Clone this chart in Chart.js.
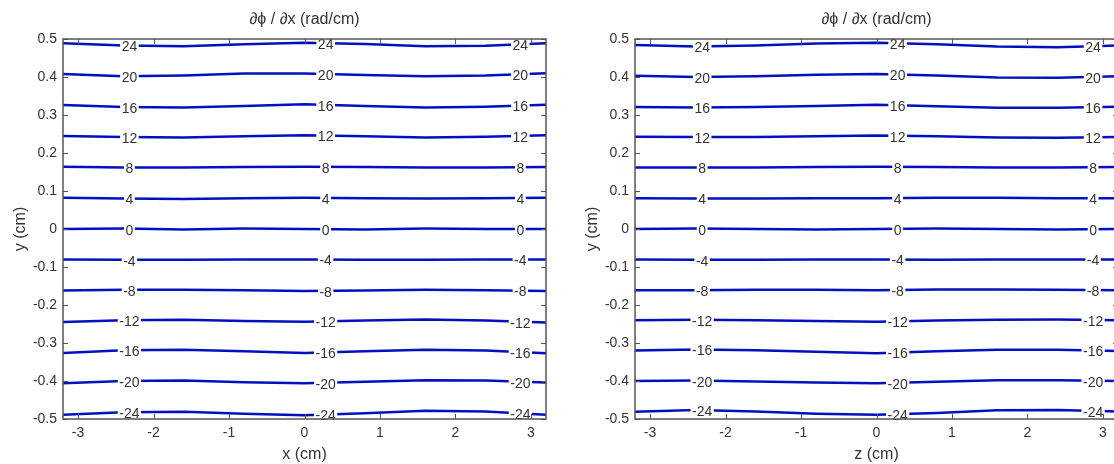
<!DOCTYPE html>
<html>
<head>
<meta charset="utf-8">
<script src="https://cdn.jsdelivr.net/npm/chart.js@4.4.0/dist/chart.umd.min.js"></script>
<style>
  html, body { margin: 0; padding: 0; background: #fff; overflow: hidden; width: 1114px; height: 464px; position: relative; }
  .panel { position: absolute; top: 0; width: 557px; height: 464px; }
  #panel-x { left: 0; }
  #panel-z { left: 572px; }
</style>
</head>
<body>
<div class="panel" id="panel-x"><canvas id="chartX" width="557" height="464"></canvas></div>
<div class="panel" id="panel-z"><canvas id="chartZ" width="557" height="464"></canvas></div>
<script>
// contour levels of dphi/dx (rad/cm), top to bottom
const levels   = [24, 20, 16, 12, 8, 4, 0, -4, -8, -12, -16, -20, -24];
// horizontal positions (cm) where each contour is sampled
const xSamples = [-3.2, -2.4, -1.6, -0.8, 0, 0.8, 1.6, 2.4, 3.2];
const xTicks   = [-3, -2, -1, 0, 1, 2, 3];
const yTicks   = [-0.5, -0.4, -0.3, -0.2, -0.1, 0, 0.1, 0.2, 0.3, 0.4, 0.5];

// contour y positions (cm) along x, one row per level
const contoursX = [
  [0.489, 0.483, 0.481, 0.486, 0.490, 0.487, 0.481, 0.482, 0.489],
  [0.408, 0.402, 0.404, 0.409, 0.409, 0.405, 0.402, 0.404, 0.410],
  [0.326, 0.321, 0.320, 0.324, 0.328, 0.324, 0.320, 0.322, 0.327],
  [0.245, 0.242, 0.241, 0.244, 0.247, 0.244, 0.241, 0.243, 0.247],
  [0.164, 0.162, 0.162, 0.163, 0.164, 0.163, 0.162, 0.162, 0.163],
  [0.082, 0.080, 0.079, 0.081, 0.082, 0.081, 0.080, 0.081, 0.082],
  [0.000, 0.001, -0.001, 0.001, 0.000, -0.001, 0.001, 0.000, 0.000],
  [-0.080, -0.081, -0.081, -0.080, -0.080, -0.081, -0.081, -0.080, -0.080],
  [-0.162, -0.160, -0.160, -0.161, -0.163, -0.162, -0.160, -0.161, -0.163],
  [-0.245, -0.240, -0.239, -0.242, -0.244, -0.241, -0.238, -0.241, -0.246],
  [-0.326, -0.319, -0.318, -0.322, -0.326, -0.322, -0.318, -0.320, -0.327],
  [-0.406, -0.400, -0.399, -0.403, -0.406, -0.402, -0.398, -0.399, -0.404],
  [-0.489, -0.482, -0.481, -0.486, -0.490, -0.485, -0.478, -0.480, -0.489]
];

// same field sampled along z
const contoursZ = [
  [0.484, 0.480, 0.483, 0.488, 0.490, 0.486, 0.480, 0.478, 0.483],
  [0.403, 0.400, 0.402, 0.406, 0.408, 0.404, 0.399, 0.398, 0.402],
  [0.321, 0.320, 0.321, 0.324, 0.327, 0.323, 0.319, 0.319, 0.322],
  [0.243, 0.242, 0.242, 0.244, 0.246, 0.244, 0.241, 0.240, 0.242],
  [0.162, 0.162, 0.162, 0.163, 0.164, 0.163, 0.162, 0.162, 0.163],
  [0.081, 0.080, 0.080, 0.081, 0.081, 0.082, 0.082, 0.081, 0.081],
  [0.000, 0.001, 0.000, -0.001, 0.000, 0.001, 0.000, -0.001, 0.000],
  [-0.080, -0.081, -0.081, -0.080, -0.080, -0.081, -0.080, -0.080, -0.080],
  [-0.161, -0.161, -0.160, -0.160, -0.161, -0.159, -0.159, -0.160, -0.161],
  [-0.240, -0.239, -0.240, -0.242, -0.244, -0.241, -0.239, -0.238, -0.240],
  [-0.320, -0.317, -0.319, -0.323, -0.327, -0.322, -0.318, -0.318, -0.321],
  [-0.400, -0.399, -0.401, -0.404, -0.406, -0.402, -0.398, -0.398, -0.400],
  [-0.481, -0.476, -0.480, -0.486, -0.489, -0.484, -0.477, -0.476, -0.480]
];

// where the inline level labels sit (cm along the horizontal axis)
const labelPosX = [-2.32, 0.28, 2.86];
const labelPosZ = [-2.31, 0.28, 2.87];

const lineBlue  = '#0010c0';
const textColor = '#333';
const boxColor  = '#555';
const fontFam   = '"Liberation Sans", Arial, Helvetica, sans-serif';
const tickFont  = { family: fontFam, size: 14 };
const titleFont = { family: fontFam, size: 16 };
const labelFont = '14px ' + fontFam;

// y of a contour at position xv, linear between samples
function yAt(row, xv) {
  for (let j = 0; j < xSamples.length - 1; j++) {
    const x0 = xSamples[j], x1 = xSamples[j + 1];
    if (xv >= x0 && xv <= x1) {
      const t = (xv - x0) / (x1 - x0);
      return row[j] + t * (row[j + 1] - row[j]);
    }
  }
  return row[row.length - 1];
}

// clabel-style text on the lines + matlab style box with inward ticks
function contourDecor(rows, labelXs) {
  return {
    id: 'contourDecor',
    afterDatasetsDraw(chart) {
      const { ctx, scales: { x, y } } = chart;
      ctx.save();
      ctx.font = labelFont;
      ctx.textAlign = 'center';
      ctx.textBaseline = 'middle';
      levels.forEach((lev, i) => {
        labelXs.forEach(lx => {
          const px = x.getPixelForValue(lx);
          const py = y.getPixelForValue(yAt(rows[i], lx)) + 2;
          const txt = String(lev);
          const w = ctx.measureText(txt).width + 3;
          ctx.fillStyle = '#fff';
          ctx.fillRect(px - w / 2, py - 7, w, 12);
          ctx.fillStyle = textColor;
          ctx.fillText(txt, px, py);
        });
      });
      ctx.restore();
    },
    afterDraw(chart) {
      const { ctx, chartArea: a, scales: { x, y } } = chart;
      const tl = 5;
      ctx.save();
      ctx.strokeStyle = boxColor;
      ctx.lineWidth = 1.5;
      ctx.strokeRect(a.left, a.top, a.right - a.left, a.bottom - a.top);
      ctx.lineWidth = 1;
      ctx.beginPath();
      xTicks.forEach(v => {
        const px = Math.round(x.getPixelForValue(v)) + 0.5;
        ctx.moveTo(px, a.bottom); ctx.lineTo(px, a.bottom - tl);
        ctx.moveTo(px, a.top);    ctx.lineTo(px, a.top + tl);
      });
      yTicks.forEach(v => {
        const py = Math.round(y.getPixelForValue(v)) + 0.5;
        ctx.moveTo(a.left, py);  ctx.lineTo(a.left + tl, py);
        ctx.moveTo(a.right, py); ctx.lineTo(a.right - tl, py);
      });
      ctx.stroke();
      ctx.restore();
    }
  };
}

const noGrid = { display: false, drawTicks: false };

function makePanel(canvasId, axisName, rows, labelXs) {
  const datasets = rows.map((ys, i) => ({
    label: String(levels[i]),
    data: xSamples.map((xv, j) => ({ x: xv, y: ys[j] })),
    borderColor: lineBlue,
    borderWidth: 2.5,
    pointRadius: 0,
    tension: 0,
    fill: false
  }));

  return new Chart(document.getElementById(canvasId), {
    type: 'line',
    data: { datasets },
    options: {
      responsive: false,
      animation: false,
      events: [],
      layout: { padding: { right: 11 } },
      plugins: { legend: { display: false }, tooltip: { enabled: false } },
      scales: {
        x: {
          type: 'linear', position: 'bottom', min: -3.2, max: 3.2,
          afterBuildTicks: s => { s.ticks = xTicks.map(v => ({ value: v })); },
          afterFit: s => { s.height = 45; },
          grid: noGrid, border: { display: false },
          ticks: { padding: 6, color: textColor, font: tickFont, maxRotation: 0, autoSkip: false,
                   callback: v => String(v) },
          title: { display: true, text: axisName + ' (cm)', color: textColor, font: titleFont,
                   padding: { top: 0, bottom: 0 } }
        },
        top: {
          type: 'linear', position: 'top', min: -3.2, max: 3.2,
          afterFit: s => { s.height = 39; },
          grid: noGrid, border: { display: false },
          ticks: { display: false },
          title: { display: true, text: '∂ϕ / ∂x (rad/cm)', color: textColor, font: titleFont,
                   padding: { top: 10, bottom: 0 } }
        },
        y: {
          type: 'linear', position: 'left', min: -0.5, max: 0.5,
          afterBuildTicks: s => { s.ticks = yTicks.map(v => ({ value: v })); },
          afterFit: s => { s.width = 63; },
          grid: noGrid, border: { display: false },
          ticks: { padding: 6, color: textColor, font: tickFont, autoSkip: false,
                   callback: v => String(+v.toFixed(1)) },
          title: { display: true, text: 'y (cm)', color: textColor, font: titleFont,
                   padding: { top: 11, bottom: 0 } }
        }
      }
    },
    plugins: [contourDecor(rows, labelXs)]
  });
}

makePanel('chartX', 'x', contoursX, labelPosX);
makePanel('chartZ', 'z', contoursZ, labelPosZ);
</script>
</body>
</html>
